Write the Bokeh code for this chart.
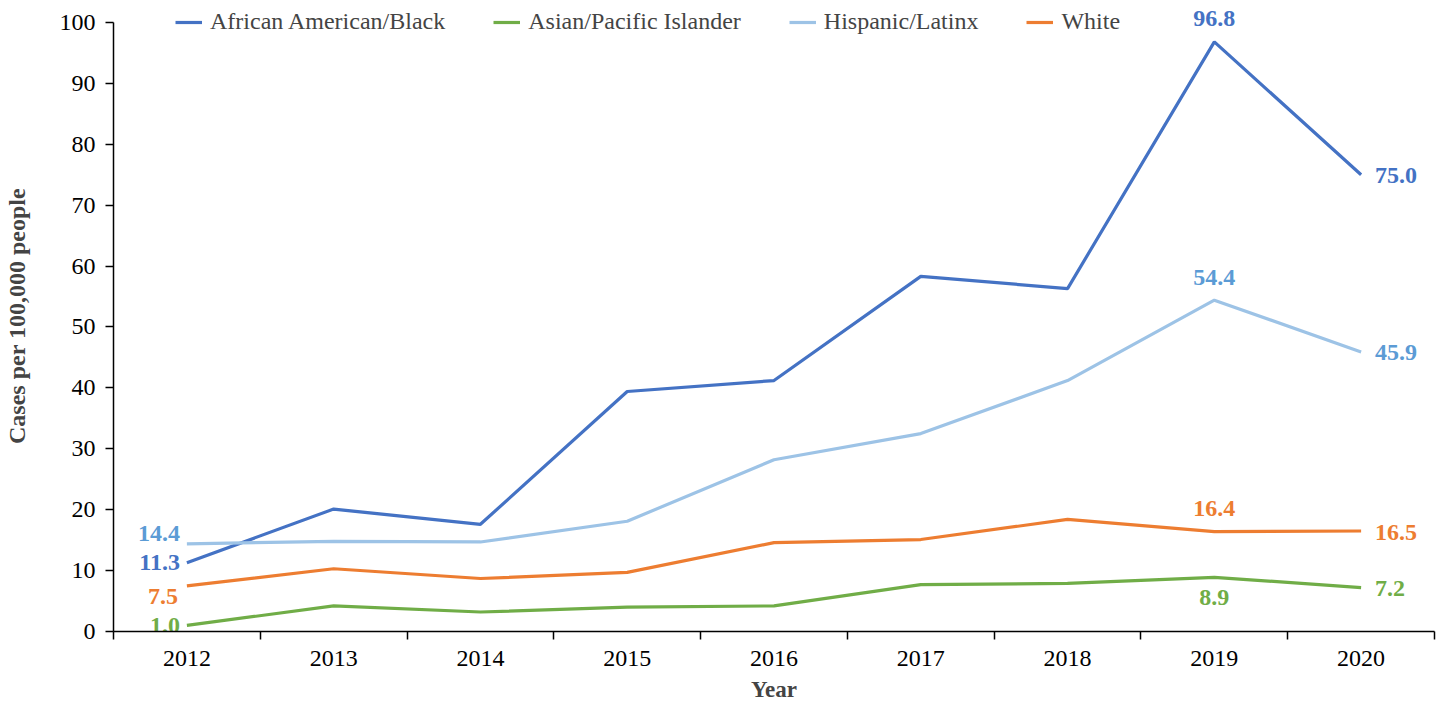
from bokeh.plotting import figure
from bokeh.models import Range1d, FixedTicker, Legend, LegendItem, ColumnDataSource
from bokeh.core.properties import value
from bokeh.embed import file_html
from bokeh.resources import INLINE

years = [2012, 2013, 2014, 2015, 2016, 2017, 2018, 2019, 2020]
series_names = ["African American/Black", "Asian/Pacific Islander", "Hispanic/Latinx", "White"]
black = [11.3, 20.1, 17.6, 39.4, 41.2, 58.3, 56.3, 96.8, 75.0]
asian = [1.0, 4.2, 3.2, 4.0, 4.2, 7.7, 7.9, 8.9, 7.2]
hispanic = [14.4, 14.8, 14.7, 18.1, 28.2, 32.5, 41.2, 54.4, 45.9]
white = [7.5, 10.3, 8.7, 9.7, 14.6, 15.1, 18.4, 16.4, 16.5]
y_ticks = [0, 10, 20, 30, 40, 50, 60, 70, 80, 90, 100]

line_colors = ["#4472C4", "#70AD47", "#9DC3E6", "#ED7D31"]
label_colors = ["#4472C4", "#70AD47", "#5B9BD5", "#ED7D31"]

# labelled points: (series index, year index, placement)
labelled = [
    (0, 0, "left"), (0, 7, "above"), (0, 8, "right"),
    (1, 0, "left"), (1, 7, "below"), (1, 8, "right"),
    (2, 0, "left_up"), (2, 7, "above"), (2, 8, "right"),
    (3, 0, "left_down"), (3, 7, "above"), (3, 8, "right"),
]
placement_style = {
    "left": (-7, 0, "right"),
    "left_up": (-7, -10, "right"),
    "left_down": (-9, 11, "right"),
    "above": (0, -23, "center"),
    "below": (0, 20, "center"),
    "right": (14, 1, "left"),
}

FONT = "Liberation Serif"

p = figure(width=1438, height=704, output_backend="svg", toolbar_location=None,
           x_range=Range1d(2011.5, 2020.5), y_range=Range1d(0, 103.6),
           min_border_left=108, min_border_right=4, min_border_top=0, min_border_bottom=73)
p.grid.visible = False
p.outline_line_color = None
p.background_fill_color = "white"
p.title.visible = False

all_series = [black, asian, hispanic, white]
renderers = []
for vals, col in zip(all_series, line_colors):
    r = p.line(years, vals, line_color=col, line_width=3.2)
    renderers.append(r)

# data labels
lx, ly, lt, lc, lxo, lyo, la = [], [], [], [], [], [], []
for si, yi, pl in labelled:
    v = all_series[si][yi]
    xo, yo, al = placement_style[pl]
    lx.append(years[yi]); ly.append(v); lt.append(f"{v:.1f}")
    lc.append(label_colors[si]); lxo.append(xo); lyo.append(yo); la.append(al)
src = ColumnDataSource(dict(x=lx, y=ly, t=lt, c=lc, xo=lxo, yo=lyo, a=la))
p.text(x="x", y="y", text="t", text_color="c", x_offset="xo", y_offset="yo",
       text_align="a", text_baseline="middle", text_font=value(FONT),
       text_font_style="bold", text_font_size="24px", source=src)

# axes
xa = p.xaxis[0]
xa.ticker = FixedTicker(ticks=years, minor_ticks=[y - 0.5 for y in years] + [years[-1] + 0.5])
xa.major_tick_out = 0
xa.major_tick_in = 0
xa.minor_tick_out = 8
xa.minor_tick_in = 0
xa.minor_tick_line_color = "black"
xa.axis_line_color = "black"
xa.axis_line_width = 1.5
xa.minor_tick_line_width = 1.5
xa.major_label_text_font = FONT
xa.major_label_text_font_size = "24px"
xa.major_label_text_color = "black"
xa.major_label_standoff = 11
xa.axis_label = "Year"
xa.axis_label_text_font = FONT
xa.axis_label_text_font_style = "bold"
xa.axis_label_text_font_size = "23px"
xa.axis_label_standoff = 8

ya = p.yaxis[0]
ya.ticker = FixedTicker(ticks=y_ticks, minor_ticks=[])
ya.bounds = (0, 100)
ya.major_tick_out = 8
ya.major_tick_in = 0
ya.major_tick_line_width = 1.5
ya.axis_line_width = 1.5
ya.axis_line_color = "black"
ya.major_tick_line_color = "black"
ya.major_label_text_font = FONT
ya.major_label_text_font_size = "24px"
ya.major_label_text_color = "black"
ya.major_label_standoff = 10
ya.axis_label = "Cases per 100,000 people"
ya.axis_label_text_font = FONT
ya.axis_label_text_font_style = "bold"
ya.axis_label_text_font_size = "24px"
ya.axis_label_standoff = 27

legend = Legend(items=[LegendItem(label=n, renderers=[r]) for n, r in zip(series_names, renderers)],
                orientation="horizontal", location=(62, 596),
                label_text_font=FONT, label_text_font_size="24px",
                glyph_width=27, glyph_height=20, label_standoff=8, spacing=48,
                padding=0, margin=0, border_line_color=None, background_fill_alpha=0)
p.add_layout(legend, "center")

open("out.html", "w").write(file_html(p, INLINE))
